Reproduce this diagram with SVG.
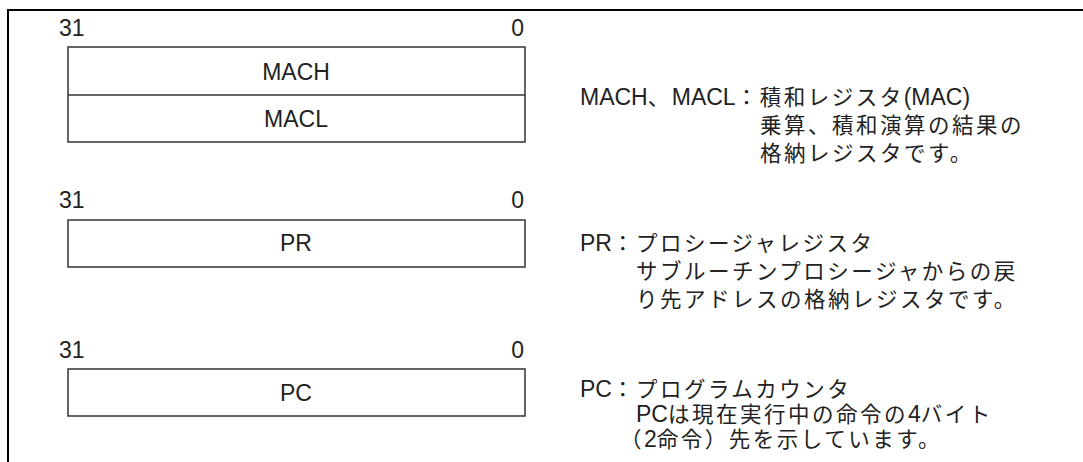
<svg xmlns="http://www.w3.org/2000/svg" width="1083" height="462" viewBox="0 0 1083 462">
<style>
.t{font-family:"Liberation Sans","Noto Sans CJK JP",sans-serif;font-size:23px;fill:#222}
.d{font-family:"Liberation Sans","Noto Sans CJK JP",sans-serif;font-size:21.5px;letter-spacing:2.5px;fill:#222}
.l{font-size:23px;letter-spacing:0}
.box{fill:#fff;stroke:#333;stroke-width:1.5}
.frame{stroke:#000;stroke-width:2;fill:none}
</style>
<rect width="1083" height="462" fill="#fff"/>
<path class="frame" d="M8 462V10H1083"/>
<g id="mac">
<text class="t" x="59" y="36">31</text>
<text class="t" x="524" y="36" text-anchor="end">0</text>
<rect class="box" x="68" y="47" width="457" height="95"/>
<line class="box" x1="68" y1="95" x2="525" y2="95"/>
<text class="t" x="296" y="80" text-anchor="middle">MACH</text>
<text class="t" x="296" y="127" text-anchor="middle">MACL</text>
<text class="d" x="580" y="105"><tspan class="l">MACH</tspan>、<tspan class="l">MACL</tspan>：積和レジスタ<tspan class="l">(MAC)</tspan></text>
<text class="d" x="760" y="133">乗算、積和演算の結果の</text>
<text class="d" x="760" y="161">格納レジスタです。</text>
</g>
<g id="pr">
<text class="t" x="59" y="208">31</text>
<text class="t" x="524" y="208" text-anchor="end">0</text>
<rect class="box" x="68" y="220" width="457" height="47"/>
<text class="t" x="296" y="251" text-anchor="middle">PR</text>
<text class="d" x="580" y="251"><tspan class="l">PR</tspan>：プロシージャレジスタ</text>
<text class="d" x="636" y="279">サブルーチンプロシージャからの戻</text>
<text class="d" x="636" y="307">り先アドレスの格納レジスタです。</text>
</g>
<g id="pc">
<text class="t" x="59" y="358">31</text>
<text class="t" x="524" y="358" text-anchor="end">0</text>
<rect class="box" x="68" y="369" width="457" height="47"/>
<text class="t" x="296" y="401" text-anchor="middle">PC</text>
<text class="d" x="580" y="397"><tspan class="l">PC</tspan>：プログラムカウンタ</text>
<text class="d" x="636" y="422"><tspan class="l">PC</tspan>は現在実行中の命令の<tspan class="l">4</tspan>バイト</text>
<text class="d" x="620" y="447">（<tspan class="l">2</tspan>命令）先を示しています。</text>
</g>
<g id="connectors"/>
</svg>
